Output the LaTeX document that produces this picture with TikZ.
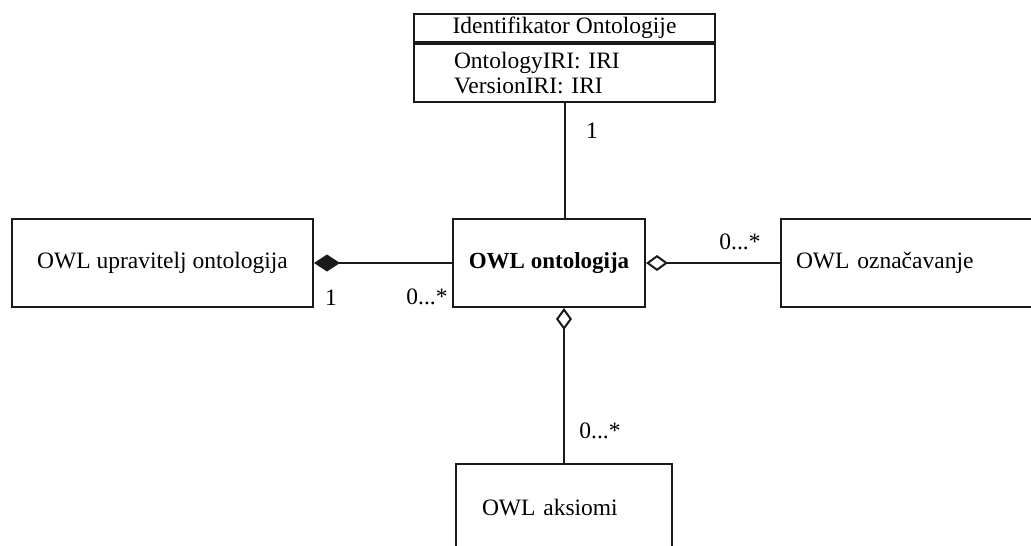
\documentclass[tikz,border=0pt]{standalone}
\usepackage{fontspec}
\setmainfont{Liberation Serif}
\usepackage{xcolor}
\usepackage{tikz}
\usetikzlibrary{arrows.meta, positioning, calc}
\definecolor{umlline}{HTML}{1A1A1A}

\begin{document}
\begin{tikzpicture}[x=1pt, y=-1pt,
        every node/.style={font=\fontsize{23.5}{25}\selectfont, text=black},
        classbox/.style={draw=umlline, line width=2pt, fill=white, inner sep=0pt},
        mult/.style={inner sep=1pt},
        assoc/.style={draw=umlline, line width=2pt},
        fulldia/.style={{Diamond[length=26pt, width=17pt, fill=umlline]}-},
        opendia/.style={{Diamond[open, length=22pt, width=16pt, fill=white]}-}]
        \useasboundingbox (0,0) rectangle (1031,546);
        \clip (0,0) rectangle (1031,546);

        % Identifikator ontologije (two compartments)
        \node[classbox, anchor=north west, minimum width=301pt, minimum height=28pt] (idhead) at (413,13) {Identifikator Ontologije};
        \node[classbox, anchor=north, minimum width=301pt, minimum height=58pt, text width=221pt, inner xsep=40pt, align=left] (idattr) at (idhead.south) {OntologyIRI: IRI\\VersionIRI: IRI};

        % classes in the middle row
        \node[classbox, minimum width=301pt, minimum height=88pt] (upravitelj) at (162.5,263) {OWL upravitelj ontologija};
        \node[classbox, minimum width=192pt, minimum height=88pt, font=\fontsize{23}{25}\selectfont\bfseries] (ontologija) at (549,263) {OWL ontologija};
        \node[classbox, anchor=west, minimum width=260pt, minimum height=88pt, text width=230pt, inner xsep=15pt, align=left] (oznacavanje) at (780,263) {OWL označavanje};

        % axioms, cut off at the bottom
        \node[classbox, anchor=north, minimum width=216pt, minimum height=88pt, text width=164pt, inner xsep=26pt, align=left] (aksiomi) at (564,463) {OWL aksiomi};

        % connectors
        \draw[assoc] (idattr.south) -- (idattr.south |- ontologija.north);
        \draw[assoc, fulldia] (upravitelj.east) -- (ontologija.west);
        \draw[assoc, opendia] (ontologija.east) -- (oznacavanje.west);
        \draw[assoc, opendia] (aksiomi.north |- ontologija.south) -- (aksiomi.north);

        % multiplicities
        \node[mult] (mtop) at (592,131) {1};
        \node[mult] (mupr) at (331,298) {1};
        \node[mult] (mont) at (427,297) {0...*};
        \node[mult] (mozn) at (740,242) {0...*};
        \node[mult] (maks) at (600,431) {0...*};
\end{tikzpicture}
\end{document}
